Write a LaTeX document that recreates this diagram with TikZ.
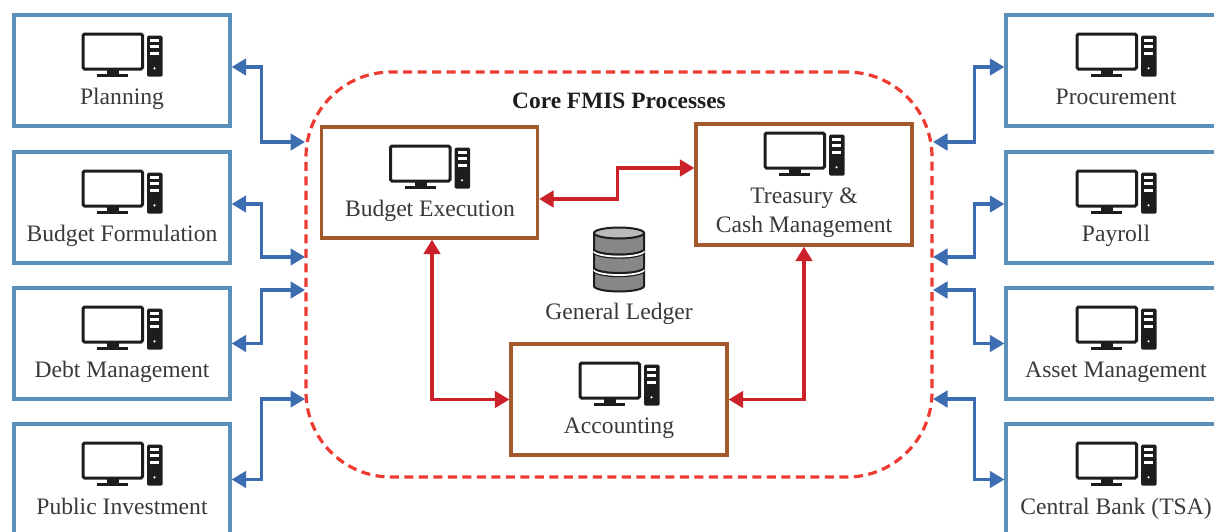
\documentclass[tikz,border=0pt]{standalone}
\usepackage{fontspec}
\setmainfont{Liberation Serif}
\usetikzlibrary{arrows.meta}
\definecolor{sysblue}{HTML}{5A8FB9}
\definecolor{linkblue}{HTML}{3C6DB0}
\definecolor{corebrown}{HTML}{A2592B}
\definecolor{corered}{HTML}{EE3B32}
\definecolor{linkred}{HTML}{CB2229}
\definecolor{icondark}{HTML}{1E1C1C}
\definecolor{labeldark}{HTML}{3A3838}

\tikzset{
  sysbox/.style={draw=sysblue, line width=3.3, minimum width=216, minimum height=111, inner sep=0},
  corebox/.style={draw=corebrown, line width=3.3, minimum width=216, minimum height=111, inner sep=0},
  boxlabel/.style={text=labeldark, anchor=base, inner sep=0, font=\fontsize{23.6}{29}\selectfont, align=center},
  bluelink/.style={linkblue, line width=3.2, {Triangle[length=14.5,width=16.5]}-{Triangle[length=14.5,width=16.5]}},
  redlink/.style={linkred, line width=3.2, {Triangle[length=14.5,width=16.5]}-{Triangle[length=14.5,width=16.5]}},
  dbdisk/.style={fill=black!47, draw=icondark, line width=2},
  pcicon/.pic={
    \draw[icondark, line width=3, rounded corners=1.5] (-39,19) rectangle (20.5,54);
    \fill[icondark] (-15,55)rectangle(-3,60);
    \fill[icondark] (-25,59)rectangle(6,61.5);
    \fill[icondark, rounded corners=1.5] (25,20.7)rectangle(40.7,61.7);
    \fill[white] (28,24)rectangle(37,27);
    \fill[white] (28,30)rectangle(37,33);
    \fill[white] (28,37)rectangle(37,40);
    \fill[white] (32.5,53.3) circle [radius=1.2];
  },
}

\begin{document}
\begin{tikzpicture}[x=1pt,y=-1pt]
\clip (0,0) rectangle (1214,531);

% outer systems
\node[sysbox] (planning) at (122,70.5) {};
\node[sysbox] (formulation) at (122,207.5) {};
\node[sysbox] (debt) at (122,343.5) {};
\node[sysbox] (investment) at (122,479.5) {};
\node[sysbox] (procurement) at (1114,70.5) {};
\node[sysbox] (payroll) at (1114,207.5) {};
\node[sysbox] (asset) at (1114,343.5) {};
\node[sysbox] (centralbank) at (1114,479.5) {};

% core
\node[draw=corered, line width=3.2, dashed, dash pattern=on 9 off 5.5, rounded corners=85, minimum width=626, minimum height=405, inner sep=0] (core) at (619,274.5) {};
\node[corebox] (execution) at (429.5,182.5) {};
\node[corebox, minimum height=121] (treasury) at (804,184.5) {};
\node[corebox] (accounting) at (619,399.5) {};

\pic (planningicon) at (122,15) {pcicon};
\pic (formulationicon) at (122,152) {pcicon};
\pic (debticon) at (122,288) {pcicon};
\pic (investmenticon) at (122,424) {pcicon};
\pic (procurementicon) at (1116,15) {pcicon};
\pic (payrollicon) at (1116,152) {pcicon};
\pic (asseticon) at (1116,288) {pcicon};
\pic (centralbankicon) at (1116,424) {pcicon};
\pic (executionicon) at (429.5,127) {pcicon};
\pic (treasuryicon) at (804,114) {pcicon};
\pic (accountingicon) at (619,344) {pcicon};

\node[boxlabel] (planninglabel) at (122,104) {Planning};
\node[boxlabel] (formulationlabel) at (122,241) {Budget Formulation};
\node[boxlabel] (debtlabel) at (122,377) {Debt Management};
\node[boxlabel] (investmentlabel) at (122,514) {Public Investment};
\node[boxlabel] (procurementlabel) at (1116,104) {Procurement};
\node[boxlabel] (payrolllabel) at (1116,241) {Payroll};
\node[boxlabel] (assetlabel) at (1116,377) {Asset Management};
\node[boxlabel] (centralbanklabel) at (1116,514) {Central Bank (TSA)};
\node[boxlabel] (executionlabel) at (430,216) {Budget Execution};
\node[boxlabel] (treasurylabel) at (804,203) {Treasury \&};
\node[boxlabel] (cashlabel) at (804,232) {Cash Management};
\node[boxlabel] (accountinglabel) at (619,433) {Accounting};
\node[boxlabel] (ledgerlabel) at (619,319) {General Ledger};
\node[boxlabel, font=\bfseries\fontsize{23.4}{28}\selectfont, text=icondark] (coretitle) at (619,108) {Core FMIS Processes};

% database
\draw[dbdisk] (594,270) -- (594,286) arc [start angle=180, end angle=360, x radius=25, y radius=-5.5] -- (644,270) -- cycle;
\draw[icondark, line width=1.4] (594,271) arc [start angle=180, end angle=360, x radius=25, y radius=-5.5];
\draw[white, line width=1.8] (594,269.5) arc [start angle=180, end angle=360, x radius=25, y radius=-5.5];
\draw[dbdisk] (594,251) -- (594,267.5) arc [start angle=180, end angle=360, x radius=25, y radius=-5.5] -- (644,251) -- cycle;
\draw[icondark, line width=1.4] (594,252.5) arc [start angle=180, end angle=360, x radius=25, y radius=-5.5];
\draw[white, line width=1.8] (594,251) arc [start angle=180, end angle=360, x radius=25, y radius=-5.5];
\draw[dbdisk] (594,233) -- (594,249) arc [start angle=180, end angle=360, x radius=25, y radius=-5.5] -- (644,233) -- cycle;
\draw[icondark, line width=2, fill=black!27] (619,233) ellipse [x radius=25, y radius=5.5];

% links
\coordinate (coreleftA) at (305,142);
\coordinate (coreleftB) at (305,257);
\coordinate (coreleftC) at (305,290);
\coordinate (coreleftD) at (305,399);
\coordinate (corerightA) at (933,142);
\coordinate (corerightB) at (933,257);
\coordinate (corerightC) at (933,290);
\coordinate (corerightD) at (933,399);

\draw[bluelink] ([yshift=3.5]planning.east) -- ++(30,0) |- (coreleftA);
\draw[bluelink] ([yshift=3.5]formulation.east) -- ++(30,0) |- (coreleftB);
\draw[bluelink] (debt.east) -- ++(30,0) |- (coreleftC);
\draw[bluelink] (investment.east) -- ++(30,0) |- (coreleftD);
\draw[bluelink] ([yshift=3.5]procurement.west) -- ++(-30,0) |- (corerightA);
\draw[bluelink] ([yshift=3.5]payroll.west) -- ++(-30,0) |- (corerightB);
\draw[bluelink] (asset.west) -- ++(-30,0) |- (corerightC);
\draw[bluelink] (centralbank.west) -- ++(-30,0) |- (corerightD);

\draw[redlink] ([yshift=-16.5]execution.east) -- ++(78,0) |- ([yshift=16.5]treasury.west);
\draw[redlink] ([xshift=2.5]execution.south) |- (accounting.west);
\draw[redlink] (treasury.south) |- (accounting.east);

\end{tikzpicture}
\end{document}
